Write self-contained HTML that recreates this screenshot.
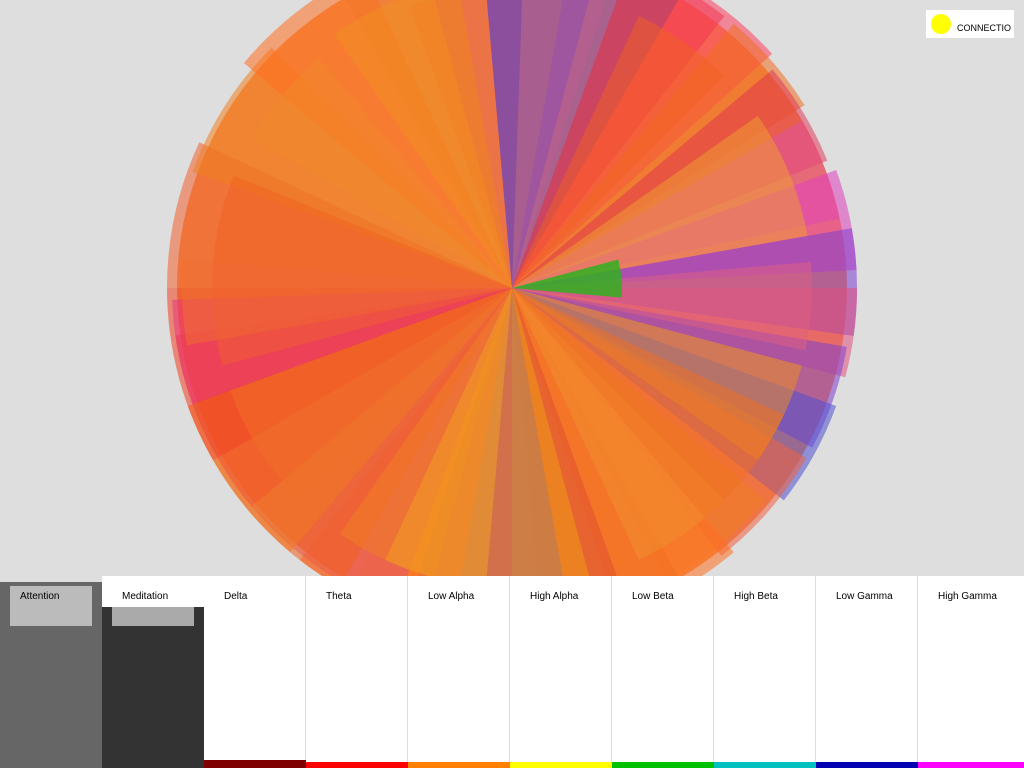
<!DOCTYPE html>
<html><head><meta charset="utf-8"><style>
html,body{margin:0;padding:0;width:1024px;height:768px;overflow:hidden;background:#dedede;font-family:"Liberation Sans",sans-serif}
#art{position:absolute;left:0;top:0}
#panel{position:absolute;left:0;top:576px;width:1024px;height:192px}
.col{position:absolute;top:0;width:101px;height:192px;background:#fff;border-right:1px solid #dcdcdc}
.lbl{position:absolute;left:20px;top:15px;font-size:10px;color:#000}
.bar{position:absolute;left:0;bottom:0;width:102px;height:6px}
#conn{position:absolute;left:926px;top:10px;width:88px;height:28px;background:#fff}
</style></head><body>
<svg id="art" width="1024" height="576"></svg>
<div id="conn">
<div style="position:absolute;left:5px;top:4px;width:20px;height:20px;border-radius:50%;background:#ffff00"></div>
<div style="position:absolute;left:31px;top:13px;font-size:9px">CONNECTIO</div>
</div>
<div id="panel">
<div class="col" style="left:0;background:#dedede;border:none;width:102px">
 <div style="position:absolute;left:0;top:6px;width:102px;height:186px;background:#666"></div>
 <div style="position:absolute;left:10px;top:10px;width:82px;height:40px;background:#bbb"></div>
 <div class="lbl">Attention</div></div>
<div class="col" style="left:102px;border:none;width:102px">
 <div style="position:absolute;left:0;top:31px;width:102px;height:161px;background:#333"></div>
 <div style="position:absolute;left:10px;top:31px;width:82px;height:19px;background:#aaa"></div>
 <div class="lbl">Meditation</div></div>
<div id="bands"></div>
</div>
<script>
const bandNames=["Delta","Theta","Low Alpha","High Alpha","Low Beta","High Beta","Low Gamma","High Gamma"];
const bandColors=["#7f0000","#ff0000","#ff7f00","#ffff00","#00c000","#00c0c0","#0000b0","#ff00ff"];
const bandValues=[8,6,6,6,6,6,6,6];
const bands=document.getElementById('bands');
bandNames.forEach((n,i)=>{
 const c=document.createElement('div');c.className='col';c.style.left=(204+i*102)+'px';
 if(i===bandNames.length-1){c.style.width='106px';c.style.borderRight='none';}
 
 
 const l=document.createElement('div');l.className='lbl';l.textContent=n;
 
 
 const b=document.createElement('div');b.className='bar';b.style.background=bandColors[i];b.style.height=bandValues[i]+'px';
 if(i===bandNames.length-1)b.style.width='106px';
 
 
 c.appendChild(l);c.appendChild(b);bands.appendChild(c);
});
const wStart=[-180,-160,-140,-120,-105,-95,-80,-70,-60,-50,-40,-30,-20,-10,0,10,20,30,40,50,60,70,80,90,100,110,120,130,140,150,160,170,-175,-150,-125,-88,-65,-35,-5,15,45,75,105,135,165,-15,-110,25,95];
const wEnd=[-155,-135,-115,-100,-88,-75,-60,-52,-42,-32,-22,-12,-3,8,15,28,38,52,62,72,85,95,108,118,128,140,150,160,172,180,178,185,-158,-130,-100,-72,-45,-10,12,35,65,90,125,160,185,5,-95,50,115];
const wRad=[345,340,350,355,345,330,335,345,350,345,340,335,345,345,345,340,345,340,330,345,340,345,340,335,345,340,345,345,340,345,340,330,300,300,310,300,300,300,300,300,300,300,300,300,300,110,300,300,300];
const wCol=["#f06030","#f08020","#ff7020","#f07828","#e04888","#5040c0","#7040c8","#e83040","#ff4060","#f07020","#e03050","#e050a0","#e040c0","#8040d0","#e05080","#8040d0","#5050d0","#f06040","#f08020","#ff7020","#f07020","#e05030","#7050c0","#f08020","#ff7020","#e05070","#f06020","#f07820","#f05030","#f04020","#e83080","#f07030","#f06020","#f08828","#f09020","#c06090","#f06020","#f0a030","#e06080","#f09020","#f09030","#f0a010","#f08020","#f07028","#f06030","#30b020","#f08020","#f07020","#f0a020"];
const wOp=[0.55,0.55,0.55,0.5,0.55,0.6,0.55,0.55,0.55,0.55,0.5,0.55,0.55,0.55,0.55,0.55,0.55,0.55,0.5,0.55,0.55,0.55,0.5,0.55,0.55,0.5,0.55,0.55,0.55,0.55,0.5,0.5,0.5,0.5,0.5,0.5,0.5,0.5,0.5,0.5,0.5,0.5,0.5,0.5,0.5,0.85,0.5,0.5,0.5];
const svg=document.getElementById('art');const NS='http://www.w3.org/2000/svg';
const cx=512,cy=288;
const px=(a,r)=>[cx+r*Math.cos(a*Math.PI/180),cy+r*Math.sin(a*Math.PI/180)];
const base=document.createElementNS(NS,'circle');
base.setAttribute('cx',cx);base.setAttribute('cy',cy);base.setAttribute('r',335);base.setAttribute('fill','#f08a48');


svg.appendChild(base);
wStart.forEach((s,i)=>{
 const e=wEnd[i],r=wRad[i];const p1=px(s,r),p2=px(e,r);
 const path=document.createElementNS(NS,'path');
 path.setAttribute('d',`M${cx},${cy}L${p1[0]},${p1[1]}A${r},${r} 0 0 1 ${p2[0]},${p2[1]}Z`);
 path.setAttribute('fill',wCol[i]);path.setAttribute('fill-opacity',wOp[i]);
 
 
 svg.appendChild(path);
});
</script>
</body></html>
